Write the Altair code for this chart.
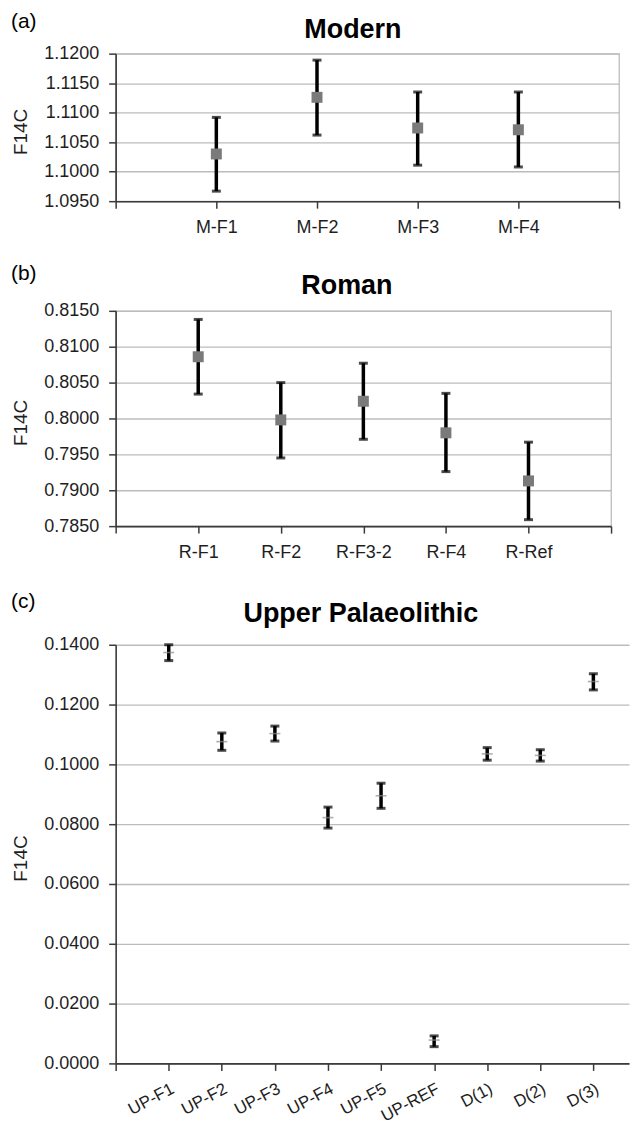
import altair as alt
import pandas as pd

# ---- data ----
modern_cats = ["M-F1", "M-F2", "M-F3", "M-F4"]
modern_val = [1.1030, 1.1126, 1.1074, 1.1071]
modern_lo = [1.0967, 1.1062, 1.1011, 1.1008]
modern_hi = [1.1092, 1.1189, 1.1135, 1.1135]
modern_ticks = [1.0950, 1.1000, 1.1050, 1.1100, 1.1150, 1.1200]

roman_cats = ["R-F1", "R-F2", "R-F3-2", "R-F4", "R-Ref"]
roman_val = [0.8086, 0.7998, 0.8024, 0.7980, 0.7913]
roman_lo = [0.8034, 0.7945, 0.7971, 0.7926, 0.7859]
roman_hi = [0.8138, 0.8050, 0.8077, 0.8035, 0.7967]
roman_ticks = [0.7850, 0.7900, 0.7950, 0.8000, 0.8050, 0.8100, 0.8150]

up_cats = ["UP-F1", "UP-F2", "UP-F3", "UP-F4", "UP-F5", "UP-REF", "D(1)", "D(2)", "D(3)"]
up_val = [0.1374, 0.1076, 0.1103, 0.0822, 0.0895, 0.0078, 0.1035, 0.1030, 0.1277]
up_lo = [0.1347, 0.1047, 0.1078, 0.0787, 0.0853, 0.0056, 0.1014, 0.1011, 0.1249]
up_hi = [0.1400, 0.1105, 0.1128, 0.0857, 0.0937, 0.0092, 0.1056, 0.1049, 0.1303]
up_ticks = [0.0, 0.02, 0.04, 0.06, 0.08, 0.10, 0.12, 0.14]

titles = ["Modern", "Roman", "Upper Palaeolithic"]
tags = ["(a)", "(b)", "(c)"]

FONT = "Liberation Sans"
GRID = "#bcbcbc"
DARK = "#3a3a3a"
TXT = "#1e1e1e"


def panel(cats, vals, los, his, yticks, title, tag, width, height, xmax,
          xtick_count, title_x, title_y, tag_y, top_pad, bottom_pad,
          label_angle=0, label_pad=10, label_size=18, marker="square",
          view_stroke=GRID):
    df = pd.DataFrame({
        "idx": list(range(1, len(cats) + 1)),
        "cat": cats, "val": vals, "lo": los, "hi": his,
    })
    names = [""] + cats + [""]
    expr = "[" + ",".join("'" + n + "'" for n in names) + "][datum.value]"
    xaxis = alt.Axis(values=list(range(xtick_count)), tickCount=30, labelExpr=expr,
                     grid=False, title=None, domainColor=DARK, domainWidth=1.6,
                     tickColor=DARK, tickWidth=1.5, tickSize=7, labelFontSize=label_size,
                     labelFont=FONT, labelColor=TXT, labelPadding=label_pad,
                     labelAngle=label_angle, labelOverlap=False, labelFlush=False)
    yaxis = alt.Axis(values=yticks, tickCount=30, format=".4f", grid=True, gridColor=GRID,
                     gridWidth=1.3, domainColor=DARK, domainWidth=1.6, tickColor=DARK,
                     tickWidth=1.5, tickSize=7, labelFontSize=18, labelFont=FONT,
                     labelColor=TXT, labelPadding=10, title="F14C", titleFont=FONT,
                     titleFontSize=19, titleFontWeight="normal", titleColor=TXT,
                     titleX=-95, titleY=height / 2 + 4, titleAlign="center",
                     titleBaseline="middle", labelOverlap=False, labelFlush=False)
    x = alt.X("idx:Q", scale=alt.Scale(domain=[0, xmax], nice=False, zero=False), axis=xaxis)
    ymin, ymax = yticks[0], yticks[-1]
    yscale = alt.Scale(domain=[ymin, ymax], nice=False, zero=False)
    base = alt.Chart(df)
    bar = base.mark_rule(color="black", strokeWidth=3.5).encode(
        x=x, y=alt.Y("lo:Q", scale=yscale, axis=yaxis), y2="hi:Q")
    cap_lo = base.mark_tick(orient="horizontal", color="black", size=9, thickness=3).encode(
        x="idx:Q", y="lo:Q")
    cap_hi = base.mark_tick(orient="horizontal", color="black", size=9, thickness=3).encode(
        x="idx:Q", y="hi:Q")
    if marker == "square":
        mk = base.mark_square(size=121, color="#7a7a7a", opacity=1).encode(x="idx:Q", y="val:Q")
    else:
        mk = base.mark_tick(orient="horizontal", size=11, thickness=1.6,
                            color="#8c8c8c").encode(x="idx:Q", y="val:Q")
    one = pd.DataFrame({"t": [title], "g": [tag]})
    ttl = alt.Chart(one).mark_text(font=FONT, fontSize=27, fontWeight="bold", color="black",
                                   align="center", baseline="alphabetic").encode(
        text="t:N", x=alt.value(title_x), y=alt.value(title_y))
    tg = alt.Chart(one).mark_text(font=FONT, fontSize=21, color="black",
                                  align="left", baseline="alphabetic").encode(
        text="g:N", x=alt.value(-105), y=alt.value(tag_y))
    top_rule = alt.Chart(one).mark_rule(opacity=0, strokeWidth=1).encode(
        x=alt.value(-107), x2=alt.value(0), y=alt.value(-top_pad))
    layers = [bar, cap_lo, cap_hi, mk, ttl, tg, top_rule]
    if bottom_pad is not None:
        bottom_rule = alt.Chart(one).mark_rule(opacity=0, strokeWidth=1).encode(
            x=alt.value(-107), x2=alt.value(0), y=alt.value(height + bottom_pad))
        layers.append(bottom_rule)
    return alt.layer(*layers).properties(
        width=width, height=height, view=alt.ViewBackground(stroke=view_stroke))


pa = panel(modern_cats, modern_val, modern_lo, modern_hi, modern_ticks,
           titles[0], tags[0], 505, 148, 5, 6, 238, -16, -26, 43, 50)
pb = panel(roman_cats, roman_val, roman_lo, roman_hi, roman_ticks,
           titles[1], tags[1], 497, 216, 6, 7, 232, -17, -31, 58, 50)
pc = panel(up_cats, up_val, up_lo, up_hi, up_ticks,
           titles[2], tags[2], 515, 420, 515 / 53.25, 10, 246, -23, -37, 67, None,
           label_angle=-28, label_pad=10, label_size=17, marker="dash",
           view_stroke="transparent")

chart = alt.vconcat(pa, pb, pc, spacing=0).properties(padding=0).configure_view(
    strokeWidth=1.3)

chart.save("out.html", embed_options={"renderer": "svg", "actions": False})
